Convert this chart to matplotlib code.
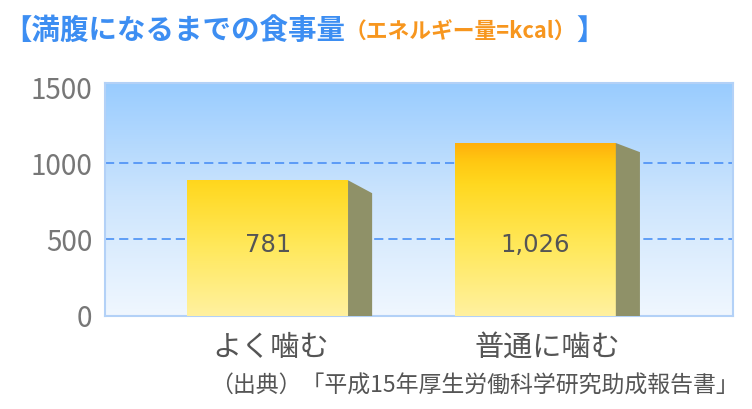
import numpy as np
import matplotlib.pyplot as plt
from matplotlib.colors import LinearSegmentedColormap
from matplotlib.patches import Rectangle, Polygon
from matplotlib.transforms import blended_transform_factory

categories = ['よく噛む', '普通に噛む']
values = [781, 1026]
value_labels = ['781', '1,026']
y_ticks = [0, 500, 1000, 1500]
title_main = '【満腹になるまでの食事量'
title_unit = '（エネルギー量=kcal）'
title_end = '】'
source = '（出典）「平成15年厚生労働科学研究助成報告書」'

plt.rcParams['font.family'] = ['Noto Sans CJK JP', 'DejaVu Sans']

fig = plt.figure(figsize=(7.52, 4.10), dpi=100)
ax = fig.add_axes([105 / 752, 1 - 317 / 410, (733 - 105) / 752, (317 - 84) / 410])
x0, x1 = -0.6075, 1.7375
y0, y1 = -7, 1526

# sky-blue wall
bg = LinearSegmentedColormap.from_list('bg', ['#f0f7ff', '#cde5fd', '#99ccff'])
grad = np.linspace(0, 1, 256).reshape(-1, 1)
ax.imshow(grad, cmap=bg, extent=[x0, x1, y0, y1], origin='lower', aspect='auto', zorder=0)

for y in [500, 1000]:
    ax.axhline(y, color='#4a90f5', lw=1.2, dashes=(5.5, 3), zorder=1)

# fake 3D bars: front face with vertical gradient + olive side face
bar_cmap = LinearSegmentedColormap.from_list(
    'bar', [(0, '#fff1a0'), (0.4, '#ffe85a'), (0.75, '#ffd820'), (0.88, '#ffc812'), (1, '#ffac0c')])
grad_top = 1150
rise = 105
width = 0.6
depth = 0.09
drops = [85, 60]
label_shift = [0.012, 0.043]

for i, v in enumerate(values):
    left = i - width / 2
    top = v + rise
    front = Rectangle((left, y0), width, top - y0, facecolor='none', edgecolor='none', zorder=3)
    ax.add_patch(front)
    im = ax.imshow(grad, cmap=bar_cmap, extent=[x0, x1, y0, grad_top], origin='lower',
                   aspect='auto', zorder=3)
    im.set_clip_path(front)
    side = Polygon([(left + width, y0), (left + width, top),
                    (left + width + depth, top - drops[i]), (left + width + depth, y0)],
                   closed=True, facecolor='#8f9168', edgecolor='none', zorder=3)
    ax.add_patch(side)
    ax.text(i, 465, value_labels[i], ha='center', va='center', fontsize=17.5,
            color='#555555', family='DejaVu Sans', zorder=4)

ax.set_xlim(x0, x1)
ax.set_ylim(y0, y1)
ax.set_yticks(y_ticks)
ax.set_yticklabels([str(t) for t in y_ticks], fontsize=20, color='#777777')
ax.tick_params(axis='y', length=0, pad=9)
ax.set_xticks([])

trans = blended_transform_factory(ax.transData, ax.transAxes)
for i, c in enumerate(categories):
    ax.text(i + label_shift[i], -31 / 233, c, transform=trans, ha='center', va='center',
            fontsize=21, color='#555555')

for s in ax.spines.values():
    s.set_color('#b3d1f7')
    s.set_linewidth(1.5)

# title in two colours
fig.canvas.draw()
r = fig.canvas.get_renderer()
t1 = fig.text(0.004, 1 - 31 / 410, title_main, fontsize=20.5, color='#3d8ef2', va='center',
              weight='bold')
bb = t1.get_window_extent(r)
t2 = fig.text(bb.x1 / 752, 1 - 32 / 410, title_unit, fontsize=15.7, color='#f7961e', va='center',
              weight='bold')
bb2 = t2.get_window_extent(r)
fig.text(bb2.x1 / 752, 1 - 31 / 410, title_end, fontsize=20.5, color='#3d8ef2', va='center',
         weight='bold')

fig.text(0.982, 1 - 386 / 410, source, fontsize=16.5, color='#555555', ha='right', va='center')

fig.savefig('out.png', dpi=100)
